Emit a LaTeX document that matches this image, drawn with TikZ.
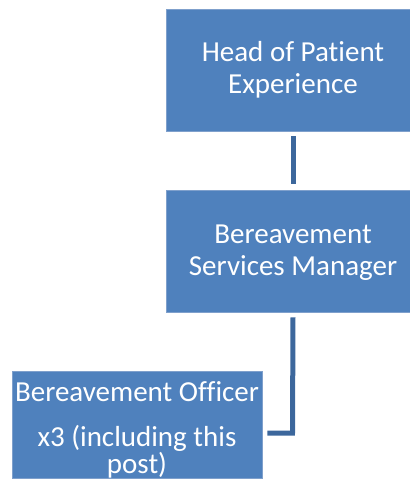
\documentclass[tikz,border=0pt]{standalone}
\usepackage{fontspec}
\setmainfont{Carlito}
% box lettering without ligatures
\newfontfamily\rolefont{Carlito}[Ligatures=NoCommon]
\usetikzlibrary{calc}
\definecolor{boxblue}{HTML}{4F81BD}
\definecolor{boxedge}{HTML}{7FA0CC}
\definecolor{linkblue}{HTML}{3C679C}
\begin{document}
\begin{tikzpicture}[x=1pt,y=-1pt,
  role/.style={rectangle, fill=boxblue, draw=boxedge, line width=0.6pt,
    text=white, align=center, inner sep=0pt},
  upper/.style={role, minimum width=254pt, minimum height=122pt,
    font=\rolefont\fontsize{29}{31.5}\selectfont},
  link/.style={draw=linkblue, line width=5pt}]
  \useasboundingbox (0,0) rectangle (410,488);
  \clip (0,0) rectangle (410,488);
  % reporting line, top to bottom
  \node[upper, text height=54pt, text depth=8pt] (head) at (293,70)
    {Head of Patient\\Experience};
  \node[upper, text height=56pt, text depth=8pt] (mgr) at (293,251)
    {Bereavement\\Services Manager};
  \node[role, anchor=north, minimum width=250pt, text height=102pt, text depth=5pt,
    font=\rolefont\fontsize{29}{26}\selectfont] (officer) at (137,371)
    {Bereavement Officer\\[19pt]x3 (including this\\post)};
  \coordinate (elbow) at (292.5,433);
  \draw[link] ([yshift=-5pt]head.south) -- ([yshift=6pt]mgr.north);
  \draw[link] ([yshift=-5pt]mgr.south) -- (elbow) -- ($(officer.east |- elbow)+(5,0)$);
\end{tikzpicture}
\end{document}
